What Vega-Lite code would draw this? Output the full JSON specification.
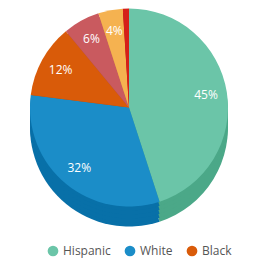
{
  "$schema": "https://vega.github.io/schema/vega-lite/v6.json",
  "width": 258,
  "height": 215,
  "padding": {"top": 0, "left": 0, "right": 0, "bottom": 8},
  "autosize": "pad",
  "background": "white",
  "data": {"values": [
    {"group": "Hispanic", "pct": 45, "idx": 1, "label": "45%"},
    {"group": "White", "pct": 32, "idx": 2, "label": "32%"},
    {"group": "Black", "pct": 12, "idx": 3, "label": "12%"},
    {"group": "Two or more races", "pct": 6, "idx": 4, "label": "6%"},
    {"group": "Asian", "pct": 4, "idx": 5, "label": "4%"},
    {"group": "American Indian", "pct": 1, "idx": 6, "label": ""}
  ]},
  "encoding": {
    "theta": {"field": "pct", "type": "quantitative", "stack": true},
    "order": {"field": "idx", "type": "quantitative"}
  },
  "layer": [
    {"mark": {"type": "arc", "outerRadius": 99, "yOffset": 20},
     "encoding": {"color": {"field": "group", "type": "nominal", "legend": null,
       "scale": {"domain": ["Hispanic","White","Black","Two or more races","Asian","American Indian"],
                 "range": ["#4BA888","#0870A8","#B04808","#A8484C","#D09040","#A81810"]}}}},
    {"mark": {"type": "arc", "outerRadius": 99, "yOffset": 16},
     "encoding": {"color": {"field": "group", "type": "nominal", "legend": null,
       "scale": {"domain": ["Hispanic","White","Black","Two or more races","Asian","American Indian"],
                 "range": ["#4BA888","#0870A8","#B04808","#A8484C","#D09040","#A81810"]}}}},
    {"mark": {"type": "arc", "outerRadius": 99, "yOffset": 12},
     "encoding": {"color": {"field": "group", "type": "nominal", "legend": null,
       "scale": {"domain": ["Hispanic","White","Black","Two or more races","Asian","American Indian"],
                 "range": ["#4BA888","#0870A8","#B04808","#A8484C","#D09040","#A81810"]}}}},
    {"mark": {"type": "arc", "outerRadius": 99, "yOffset": 8},
     "encoding": {"color": {"field": "group", "type": "nominal", "legend": null,
       "scale": {"domain": ["Hispanic","White","Black","Two or more races","Asian","American Indian"],
                 "range": ["#4BA888","#0870A8","#B04808","#A8484C","#D09040","#A81810"]}}}},
    {"mark": {"type": "arc", "outerRadius": 99, "yOffset": 4},
     "encoding": {"color": {"field": "group", "type": "nominal", "legend": null,
       "scale": {"domain": ["Hispanic","White","Black","Two or more races","Asian","American Indian"],
                 "range": ["#4BA888","#0870A8","#B04808","#A8484C","#D09040","#A81810"]}}}},
    {"mark": {"type": "arc", "outerRadius": 99},
     "encoding": {"color": {"field": "group", "type": "nominal",
       "scale": {"domain": ["Hispanic","White","Black","Two or more races","Asian","American Indian"],
                 "range": ["#6BC5A8","#1B8DC8","#D95B09","#C95A5F","#F5B250","#D52019"]},
       "legend": {"values": ["Hispanic","White","Black"], "orient": "none", "direction": "horizontal",
                  "legendX": 47, "legendY": 245, "title": null, "symbolType": "circle", "symbolSize": 115,
                  "labelFontSize": 12, "labelColor": "#555555", "labelFont": "Open Sans",
                  "columnPadding": 13, "symbolStrokeWidth": 0}}}},
    {"mark": {"type": "text", "radius": 78, "color": "white", "fontSize": 12, "font": "Open Sans"},
     "encoding": {"text": {"field": "label", "type": "nominal"}}}
  ],
  "resolve": {"scale": {"color": "independent"}},
  "config": {"view": {"stroke": null}}
}
